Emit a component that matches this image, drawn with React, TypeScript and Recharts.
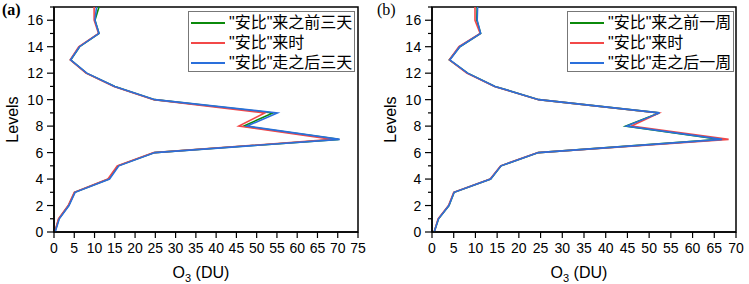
import { LineChart, Line, XAxis, YAxis, ReferenceArea, Legend } from "recharts";

const LEVELS = [0, 1, 2, 3, 4, 5, 6, 7, 8, 9, 10, 11, 12, 13, 14, 15, 16, 17];
const Y_TICKS = [0, 1, 2, 3, 4, 5, 6, 7, 8, 9, 10, 11, 12, 13, 14, 15, 16, 17];
const X_TICKS_A = [0, 5, 10, 15, 20, 25, 30, 35, 40, 45, 50, 55, 60, 65, 70, 75];
const X_TICKS_B = [0, 5, 10, 15, 20, 25, 30, 35, 40, 45, 50, 55, 60, 65, 70];

// (a) three days
const A_BEFORE = [0.2, 1.2, 3.6, 5.1, 13.5, 15.8, 24.8, 70.2, 46.8, 54.0, 24.8, 15.0, 8.0, 4.1, 6.3, 11.1, 10.1, 11.1];
const A_DURING = [0.2, 1.1, 3.5, 5.0, 13.3, 15.6, 24.6, 68.8, 45.6, 52.0, 24.6, 14.8, 7.9, 4.0, 6.1, 11.0, 9.9, 9.9];
const A_AFTER = [0.3, 1.3, 3.7, 5.2, 13.7, 16.0, 24.9, 70.5, 47.6, 55.1, 24.9, 15.0, 8.1, 4.1, 6.3, 11.1, 10.1, 10.5];

// (b) one week
const B_BEFORE = [0.5, 1.5, 3.9, 5.1, 13.5, 15.9, 24.5, 66.5, 44.6, 52.3, 24.6, 14.5, 8.2, 4.0, 6.4, 11.2, 10.3, 10.4];
const B_DURING = [0.5, 1.4, 3.8, 5.0, 13.4, 15.8, 24.4, 68.3, 45.9, 52.3, 24.5, 14.4, 8.0, 4.0, 6.2, 11.1, 9.9, 9.9];
const B_AFTER = [0.5, 1.5, 3.9, 5.1, 13.5, 15.9, 24.5, 66.8, 44.8, 52.4, 24.6, 14.5, 8.2, 4.1, 6.4, 11.2, 10.4, 10.5];

const NAMES_A = ['"安比"来之前三天', '"安比"来时', '"安比"走之后三天'];
const NAMES_B = ['"安比"来之前一周', '"安比"来时', '"安比"走之后一周'];
const COLORS = ["#0b8a0b", "#f24848", "#2a6fdb"];

const FONT = '"Liberation Sans", Arial, "Noto Sans CJK SC", sans-serif';

function YTick(props: any) {
  const { x, y, payload } = props;
  const v = payload.value as number;
  const major = v % 2 === 0;
  const axisX = x + 10;
  return (
    <g>
      <line x1={axisX - (major ? 7 : 4)} x2={axisX} y1={y} y2={y} stroke="#000" strokeWidth={1.2} />
      {major && v <= 16 ? (
        <text x={x} y={y} dy="0.36em" textAnchor="end" fontSize={14} letterSpacing={0.6} fill="#000" fontFamily={FONT}>
          {v}
        </text>
      ) : null}
    </g>
  );
}

function LegendBox({ names }: { names: string[] }) {
  return (
    <div
      style={{
        border: "1px solid #777",
        background: "#fff",
        boxSizing: "border-box",
        width: 167,
        height: 61,
        paddingTop: 1,
        fontFamily: FONT,
      }}
    >
      {names.map((n, i) => (
        <div key={n} style={{ display: "flex", alignItems: "center", height: 20 }}>
          <svg width={40} height={20} style={{ flex: "none" }}>
            <line x1={2} x2={36} y1={10} y2={10} stroke={COLORS[i]} strokeWidth={2} />
          </svg>
          <span style={{ fontSize: 16, color: "#000", whiteSpace: "nowrap", lineHeight: "20px" }}>{n}</span>
        </div>
      ))}
    </div>
  );
}

interface PanelProps {
  series: number[][];
  names: string[];
  xMax: number;
  xTicks: number[];
  yAxisWidth: number;
  rightMargin: number;
  width: number;
  legendLeft: number;
}

function Panel({ series, names, xMax, xTicks, yAxisWidth, rightMargin, width, legendLeft }: PanelProps) {
  const data = LEVELS.map((lv, i) => ({ level: lv, s0: series[0][i], s1: series[1][i], s2: series[2][i] }));
  return (
    <LineChart
      width={width}
      height={284}
      data={data}
      layout="vertical"
      margin={{ top: 7, right: rightMargin, left: 0, bottom: 22 }}
      style={{ fontFamily: FONT }}
    >
      <XAxis
        type="number"
        dataKey="s0"
        domain={[0, xMax]}
        ticks={xTicks}
        interval={0}
        allowDataOverflow
        height={30}
        tickSize={6}
        tickMargin={5}
        stroke="#000"
        axisLine={{ stroke: "#000", strokeWidth: 1.5 }}
        tickLine={{ stroke: "#000", strokeWidth: 1.2 }}
        tick={{ fontSize: 14, fill: "#000", fontFamily: FONT }}
        label={({ viewBox }: any) => (
          <text
            x={viewBox.x + viewBox.width / 2 - 5}
            y={278}
            textAnchor="middle"
            fontSize={16}
            fill="#000"
            fontFamily={FONT}
          >
            O
            <tspan fontSize={11} dy={4}>
              3
            </tspan>
            <tspan dy={-4}> (DU)</tspan>
          </text>
        )}
      />
      <YAxis
        type="number"
        dataKey="level"
        domain={[0, 17]}
        ticks={Y_TICKS}
        interval={0}
        reversed
        width={yAxisWidth}
        tickSize={7}
        tickMargin={3}
        axisLine={{ stroke: "#000", strokeWidth: 1.5 }}
        tickLine={false}
        tick={<YTick />}
        label={({ viewBox }: any) => (
          <text
            x={viewBox.x + yAxisWidth - 42}
            y={viewBox.y + viewBox.height / 2}
            textAnchor="middle"
            fontSize={16}
            fill="#000"
            fontFamily={FONT}
            transform={`rotate(-90 ${viewBox.x + yAxisWidth - 42} ${viewBox.y + viewBox.height / 2})`}
            dy="0.35em"
          >
            Levels
          </text>
        )}
      />
      <ReferenceArea x1={0} x2={xMax} y1={0} y2={17} fill="none" stroke="#000" strokeWidth={1.5} ifOverflow="visible" />
      {[0, 1, 2].map((k) => (
        <Line
          key={k}
          type="linear"
          dataKey={`s${k}`}
          name={names[k]}
          stroke={COLORS[k]}
          strokeWidth={1.6}
          dot={false}
          isAnimationActive={false}
        />
      ))}
      <Legend
        layout="vertical"
        align="center"
        verticalAlign="middle"
        wrapperStyle={{ left: legendLeft, top: 11, width: 167, height: 61 }}
        content={() => <LegendBox names={names} />}
      />
    </LineChart>
  );
}

export default function App() {
  return (
    <div style={{ position: "absolute", left: 0, top: 0, width: 749, height: 284, background: "#fff", fontFamily: FONT }}>
      <div style={{ position: "absolute", left: 0, top: 0 }}>
        <Panel
          series={[A_BEFORE, A_DURING, A_AFTER]}
          names={NAMES_A}
          xMax={75}
          xTicks={X_TICKS_A}
          yAxisWidth={54}
          rightMargin={17}
          width={375}
          legendLeft={188}
        />
      </div>
      <div style={{ position: "absolute", left: 375, top: 0 }}>
        <Panel
          series={[B_BEFORE, B_DURING, B_AFTER]}
          names={NAMES_B}
          xMax={70}
          xTicks={X_TICKS_B}
          yAxisWidth={57}
          rightMargin={13}
          width={374}
          legendLeft={192}
        />
      </div>
      <div style={{ position: "absolute", left: 2, top: 1, fontFamily: '"Liberation Serif", serif', fontSize: 16, fontWeight: "bold" }}>(a)</div>
      <div style={{ position: "absolute", left: 377, top: 1, fontFamily: '"Liberation Serif", serif', fontSize: 16 }}>(b)</div>
    </div>
  );
}
